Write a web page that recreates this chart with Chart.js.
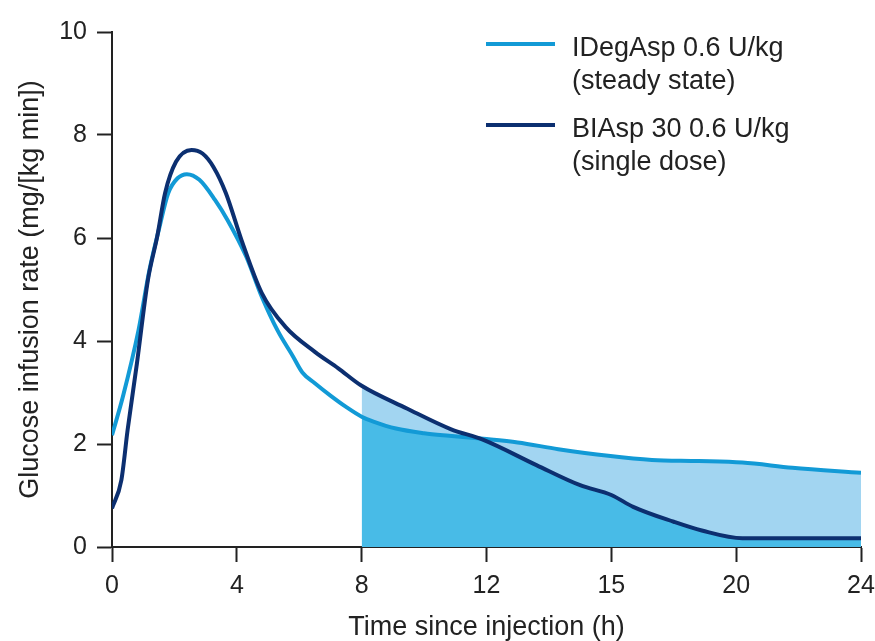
<!DOCTYPE html>
<html>
<head>
<meta charset="utf-8">
<script src="https://cdn.jsdelivr.net/npm/chart.js@4/dist/chart.umd.min.js"></script>
<style>
  body { margin: 0; background: #fff; }
  #wrap { width: 875px; height: 641px; position: relative; }
</style>
</head>
<body>
<div id="wrap"><canvas id="myChart"></canvas></div>
<script>
// values
const xTickLabels = ['0', '4', '8', '12', '15', '20', '24'];

const idegHours = [0, 0.35, 0.85, 1.2, 1.5, 1.8, 2.1, 2.4, 2.8, 3.3, 3.7, 4.3, 4.8, 5.3, 5.8, 6.1, 6.5, 7.0, 7.5,
  8, 8.4, 9.1, 10, 10.8, 11.9, 13, 14.3, 15.9, 17.3, 18.8, 20.2, 21.8, 24];
const idegRate = [2.17, 2.92, 4.21, 5.38, 6.16, 6.87, 7.16, 7.24, 7.13, 6.74, 6.35, 5.64, 4.86, 4.21, 3.70, 3.39, 3.18, 2.94, 2.72,
  2.53, 2.43, 2.30, 2.21, 2.16, 2.10, 2.03, 1.90, 1.77, 1.69, 1.67, 1.64, 1.54, 1.44];

const biaspHours = [0, 0.3, 0.5, 0.8, 1.15, 1.45, 1.7, 2.05, 2.55, 2.9, 3.25, 3.65, 4.15, 4.8, 5.55, 6.5, 7.25,
  8, 9.45, 10.85, 11.9, 13.6, 15, 16, 16.7, 18, 18.9, 20.2, 24];
const biaspRate = [0.75, 1.30, 2.27, 3.57, 5.18, 6.03, 6.87, 7.48, 7.71, 7.64, 7.38, 6.87, 5.96, 4.93, 4.28, 3.79, 3.47,
  3.13, 2.69, 2.29, 2.08, 1.59, 1.20, 1.01, 0.78, 0.49, 0.32, 0.17, 0.17];

const seriesNames = [
  ['IDegAsp 0.6 U/kg', '(steady state)'],
  ['BIAsp 30 0.6 U/kg', '(single dose)'],
];

const shadeFrom = 8;

const lightLine = '#129ad6';
const darkLine = '#0c2f70';
const darkFill = '#48bbe7';
const lightFill = '#a2d5f1';
const ink = '#222222';
const fontFamily = "'Liberation Sans', Arial, sans-serif";

const toPoints = (xs, ys) => xs.map((x, i) => ({ x: x, y: ys[i] }));
const tail = (xs, ys) => toPoints(xs, ys).filter(p => p.x >= shadeFrom);

const sideLegend = {
  id: 'sideLegend',
  afterDraw(chart) {
    const ctx = chart.ctx;
    const colors = [lightLine, darkLine];
    const rowTop = [56, 137];
    ctx.save();
    ctx.font = '27px ' + fontFamily;
    ctx.fillStyle = ink;
    ctx.textBaseline = 'alphabetic';
    seriesNames.forEach((lines, i) => {
      const base = rowTop[i];
      ctx.strokeStyle = colors[i];
      ctx.lineWidth = 4;
      ctx.beginPath();
      ctx.moveTo(486, base - 12);
      ctx.lineTo(555, base - 12);
      ctx.stroke();
      lines.forEach((t, j) => ctx.fillText(t, 572, base + j * 32.5));
    });
    ctx.restore();
  }
};

Chart.defaults.font.family = fontFamily;
Chart.defaults.color = ink;

const ctx = document.getElementById('myChart').getContext('2d');
const myChart = new Chart(ctx, {
  type: 'line',
  data: {
    datasets: [
      {
        label: 'BIAsp 30 0.6 U/kg (single dose)',
        data: toPoints(biaspHours, biaspRate),
        borderColor: darkLine,
        borderWidth: 4,
        fill: false,
        order: 1,
      },
      {
        label: 'IDegAsp 0.6 U/kg (steady state)',
        data: toPoints(idegHours, idegRate),
        borderColor: lightLine,
        borderWidth: 4,
        fill: false,
        order: 2,
      },
      {
        label: 'shade-between',
        data: tail(biaspHours, biaspRate),
        borderWidth: 0,
        backgroundColor: lightFill,
        fill: { target: 3, above: lightFill, below: lightFill },
        order: 3,
      },
      {
        label: 'shade-under',
        data: tail(idegHours, idegRate),
        borderWidth: 0,
        backgroundColor: darkFill,
        fill: 'origin',
        order: 4,
      },
    ],
  },
  options: {
    responsive: true,
    maintainAspectRatio: false,
    animation: false,
    elements: {
      point: { radius: 0, hoverRadius: 0 },
      line: { cubicInterpolationMode: 'monotone', borderCapStyle: 'butt' },
    },
    layout: { padding: { left: 0, top: 32, right: 14, bottom: 0 } },
    plugins: {
      legend: { display: false },
      tooltip: { enabled: false },
    },
    scales: {
      x: {
        type: 'linear',
        min: 0,
        max: 24,
        afterFit: s => { s.height = 94; s.paddingRight = 0; s.paddingLeft = 0; },
        border: { display: true, color: ink, width: 2 },
        grid: { drawOnChartArea: false, drawTicks: true, tickLength: 15, tickColor: ink, tickWidth: 2 },
        ticks: {
          stepSize: 4,
          padding: 9,
          font: { size: 25 },
          maxRotation: 0,
          callback: (v, i) => xTickLabels[i],
        },
        title: {
          display: true,
          text: 'Time since injection (h)',
          font: { size: 27, lineHeight: 1 },
          padding: { top: 0, bottom: 0 },
        },
      },
      y: {
        min: 0,
        max: 10,
        afterFit: s => { s.width = 112; },
        border: { display: true, color: ink, width: 2 },
        grid: { drawOnChartArea: false, drawTicks: true, tickLength: 15, tickColor: ink, tickWidth: 2 },
        ticks: { stepSize: 2, padding: 10, font: { size: 25 } },
        title: {
          display: true,
          text: 'Glucose infusion rate (mg/[kg min])',
          font: { size: 27, lineHeight: 1.2 },
          padding: { top: 14, bottom: 0 },
        },
      },
    },
  },
  plugins: [sideLegend],
});
</script>
</body>
</html>
